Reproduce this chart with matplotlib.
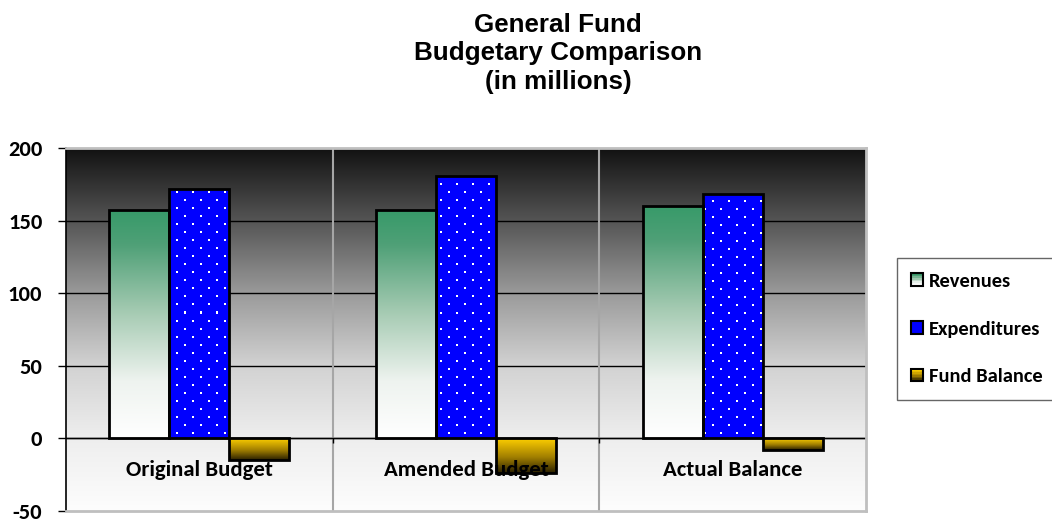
import numpy as np
import matplotlib
matplotlib.use("Agg")
import matplotlib.pyplot as plt
from matplotlib.colors import LinearSegmentedColormap, to_rgba
from matplotlib.patches import Patch, Rectangle
from matplotlib.legend_handler import HandlerBase

# ---- data (in millions) ----
categories = ["Original Budget", "Amended Budget", "Actual Balance"]
revenues = [157, 157, 160]
expenditures = [172, 181, 168]
fund_balance = [-15, -24, -8]
series_names = ["Revenues", "Expenditures", "Fund Balance"]
y_ticks = [-50, 0, 50, 100, 150, 200]

title_lines = ["General Fund", "Budgetary Comparison", "(in millions)"]

LABEL_FONT = ["Carlito", "Lato", "DejaVu Sans"]
TITLE_FONT = ["Liberation Sans", "DejaVu Sans"]

W, H, DPI = 1052, 521, 100
fig = plt.figure(figsize=(W / DPI, H / DPI), dpi=DPI)
ax = fig.add_axes([66 / W, 1 - 511 / H, 800 / W, 363 / H])

ax.set_xlim(-0.5, len(categories) - 0.5)
ax.set_ylim(y_ticks[0], y_ticks[-1])

# plot-area background: dark at top fading to white
bg_cmap = LinearSegmentedColormap.from_list(
    "bg", [(0.0, "#121212"), (0.2, "#555555"), (0.4, "#9a9a9a"),
           (0.6, "#d2d2d2"), (0.8, "#eeeeee"), (1.0, "#fdfdfd")])
grad = np.linspace(0, 1, 256).reshape(-1, 1)
ax.imshow(grad, cmap=bg_cmap, aspect="auto", extent=[0, 1, 0, 1],
          transform=ax.transAxes, zorder=0, interpolation="bicubic")

# gridlines
for v in y_ticks[1:-1]:
    ax.axhline(v, color="black", lw=1.0, zorder=1)
for b in np.arange(0.5, len(categories) - 0.5, 1.0):
    ax.axvline(b, color="#a6a6a6", lw=1.5, zorder=1)
    ax.vlines(b, -3.5, 0, color="black", lw=1.0, zorder=1)

x = np.arange(len(categories))
w = 0.225
offsets = [-w, 0, w]

rev_cmap = LinearSegmentedColormap.from_list(
    "rev", [(0.0, "#ffffff"), (0.25, "#eef3ef"), (0.55, "#a6cbb3"),
            (0.85, "#4fa077"), (1.0, "#379a69")])
fb_cmap = LinearSegmentedColormap.from_list(
    "fb", [(0.0, "#2a2000"), (0.45, "#a07e00"), (1.0, "#ffd000")])


def gradient_fill(bars, cmap):
    for bar in bars:
        x0, y0 = bar.get_x(), bar.get_y()
        bw, bh = bar.get_width(), bar.get_height()
        lo, hi = min(y0, y0 + bh), max(y0, y0 + bh)
        im = ax.imshow(grad[::-1], cmap=cmap, aspect="auto",
                       extent=[x0, x0 + bw, lo, hi], zorder=2,
                       interpolation="bicubic")
        im.set_clip_path(bar)


def dotted_fill(bars, face, dot, period=16):
    """Fill each bar with a staggered dot texture aligned to screen pixels."""
    fc = np.array(to_rgba(face))
    dc = np.array(to_rgba(dot))
    half = period // 2
    for bar in bars:
        x0, y0 = bar.get_x(), bar.get_y()
        x1, y1 = x0 + bar.get_width(), y0 + bar.get_height()
        (px0, py0), (px1, py1) = ax.transData.transform([(x0, y0), (x1, y1)])
        cols = np.arange(int(round(px0)), int(round(px1)))
        rows = np.arange(int(round(H - py1)), int(round(H - py0)))
        cc, rr = np.meshgrid(cols, rows)
        on_a = (cc % period < 2) & (rr % period < 2)
        on_b = ((cc + half) % period < 2) & ((rr + half) % period < 2)
        img = np.tile(fc, (len(rows), len(cols), 1))
        img[on_a | on_b] = dc
        im = ax.imshow(img, aspect="auto", extent=[x0, x1, y0, y1],
                       zorder=2, interpolation="nearest", origin="upper")
        im.set_clip_path(bar)


# Revenues: green-to-white gradient
rev_bars = ax.bar(x + offsets[0], revenues, w, facecolor="none",
                  edgecolor="black", lw=2.0, zorder=3)
gradient_fill(rev_bars, rev_cmap)

# Expenditures: blue with white dot pattern
exp_bars = ax.bar(x + offsets[1], expenditures, w, facecolor="none",
                  edgecolor="black", lw=2.0, zorder=3)
dotted_fill(exp_bars, "#0000ff", "white")

# Fund balance: gold-to-dark gradient
fb_bars = ax.bar(x + offsets[2], fund_balance, w, facecolor="none",
                 edgecolor="black", lw=2.0, zorder=3)
gradient_fill(fb_bars, fb_cmap)

ax.axhline(0, color="black", lw=1.0, zorder=2.5)

# category labels sit just under the zero line
for xi, name in zip(x, categories):
    ax.annotate(name, (xi, 0), xytext=(0, -38), textcoords="offset pixels",
                ha="center", va="baseline", fontsize=16.4, fontweight="bold",
                family=LABEL_FONT, zorder=4)

ax.set_xticks([])
ax.set_yticks(y_ticks)
ax.set_yticklabels([str(v) for v in y_ticks], fontsize=16.2,
                   fontweight="bold", family=LABEL_FONT)
ax.tick_params(axis="y", direction="out", length=6, width=1, pad=11,
               color="black")

for s in ["top", "right", "bottom"]:
    ax.spines[s].set_color("#bfbfbf")
    ax.spines[s].set_linewidth(2)
ax.spines["left"].set_color("black")
ax.spines["left"].set_linewidth(1.2)

# title
for i, (line, base) in enumerate(zip(title_lines, [32, 60, 89])):
    fig.text(558 / W, 1 - base / H, line, ha="center", va="baseline",
             fontsize=18.7, fontweight="bold", family=TITLE_FONT)


# legend with gradient swatches
class SwatchHandler(HandlerBase):
    def __init__(self, cmap=None, face=None):
        super().__init__()
        self.cmap = cmap
        self.face = face

    def create_artists(self, legend, orig_handle, xdescent, ydescent,
                       width, height, fontsize, trans):
        s = height
        x0 = xdescent + width - s
        arts = []
        if self.cmap is not None:
            n = 8
            for k in range(n):
                arts.append(Rectangle((x0, -ydescent + s * k / n), s, s / n,
                                      facecolor=self.cmap(k / (n - 1)),
                                      edgecolor="none", transform=trans))
        else:
            arts.append(Rectangle((x0, -ydescent), s, s, facecolor=self.face,
                                  edgecolor="none", transform=trans))
        arts.append(Rectangle((x0, -ydescent), s, s, facecolor="none",
                              edgecolor="black", lw=1.5, transform=trans))
        return arts


h_rev, h_exp, h_fb = Patch(), Patch(), Patch()
leg = fig.legend([h_rev, h_exp, h_fb], series_names,
                 handler_map={h_rev: SwatchHandler(cmap=rev_cmap),
                              h_exp: SwatchHandler(face="#0000ff"),
                              h_fb: SwatchHandler(cmap=fb_cmap)},
                 loc="upper left", bbox_to_anchor=(897 / W, 1 - 258 / H),
                 frameon=True, fancybox=False, edgecolor="#404040",
                 prop={"family": LABEL_FONT, "weight": "bold", "size": 14.8},
                 labelspacing=1.5, handlelength=0.55, handleheight=0.55,
                 handletextpad=0.3, borderpad=0.72, borderaxespad=0)
leg.get_frame().set_linewidth(1.0)

fig.savefig("out.png", dpi=DPI, facecolor="white")
